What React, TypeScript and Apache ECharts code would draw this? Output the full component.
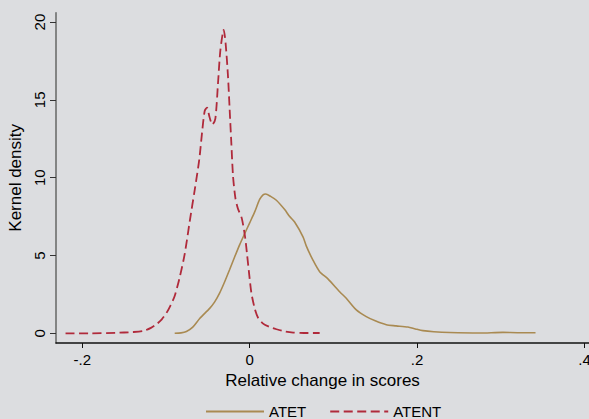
import React, { useEffect, useRef } from "react";
import * as echarts from "echarts";

const seriesNames = ["ATET", "ATENT"];

const atetX = [-0.0896, -0.082, -0.0756, -0.068, -0.0597, -0.0478, -0.042, -0.0358, -0.03, -0.0239, -0.018, -0.0119, -0.006, 0, 0.006, 0.0119, 0.016, 0.0191, 0.025, 0.0319, 0.0418, 0.0478, 0.0537, 0.0637, 0.0677, 0.0756, 0.0836, 0.0935, 0.1075, 0.1154, 0.1274, 0.1393, 0.15, 0.1632, 0.175, 0.189, 0.198, 0.207, 0.22, 0.2388, 0.2746, 0.3025, 0.32, 0.3415];
const atetY = [0, 0.03, 0.12, 0.4, 0.95, 1.6, 2.0, 2.6, 3.3, 4.1, 4.9, 5.7, 6.4, 7.1, 7.8, 8.6, 8.9, 8.95, 8.8, 8.55, 7.95, 7.5, 7.15, 6.2, 5.6, 4.7, 3.96, 3.5, 2.67, 2.25, 1.5, 1.07, 0.8, 0.55, 0.48, 0.4, 0.28, 0.17, 0.1, 0.05, 0.02, 0.06, 0.04, 0.04];

const atentX = [-0.22, -0.19, -0.16, -0.14, -0.127, -0.118, -0.111, -0.105, -0.0995, -0.0945, -0.0896, -0.0836, -0.0776, -0.0716, -0.0657, -0.0617, -0.0597, -0.0569, -0.0537, -0.051, -0.048, -0.0446, -0.041, -0.0378, -0.035, -0.031, -0.0287, -0.0259, -0.0239, -0.0219, -0.0199, -0.0171, -0.014, -0.0095, -0.0055, -0.003, -0.001, 0.002, 0.006, 0.01, 0.016, 0.024, 0.032, 0.042, 0.052, 0.065, 0.0836];
const atentY = [0, 0, 0.03, 0.08, 0.15, 0.35, 0.6, 0.9, 1.3, 1.8, 2.4, 3.6, 5.1, 7.2, 9.2, 10.6, 11.4, 12.9, 14.3, 14.5, 13.9, 13.4, 13.8, 16.1, 18.2, 19.5, 18.6, 16.5, 14.35, 12.2, 10.1, 8.7, 8.0, 7.4, 6.2, 5.0, 4.0, 2.6, 1.6, 1.0, 0.62, 0.4, 0.26, 0.12, 0.05, 0.02, 0.02];

const xTicks = [-0.2, 0, 0.2, 0.4];
const yTicks = [0, 5, 10, 15, 20];

const xTitle = "Relative change in scores";
const yTitle = "Kernel density";

const FONT = "'Liberation Sans', Arial, sans-serif";

function fmtX(v: number): string {
  if (Math.abs(v) < 1e-9) return "0";
  const s = String(Math.round(v * 10) / 10);
  return s.replace("0.", ".");
}

export default function App() {
  const ref = useRef<HTMLDivElement>(null);
  useEffect(() => {
    if (!ref.current) return;
    const chart = echarts.init(ref.current, null, { renderer: "svg" });
    const zip = (xs: number[], ys: number[]) => xs.map((x, i) => [x, ys[i]]);
    chart.setOption({
      animation: false,
      backgroundColor: "#dcdde0",
      textStyle: { fontFamily: FONT },
      grid: { left: 56, top: 12.7, width: 533, height: 330.3, containLabel: false, outerBoundsMode: "none" },
      xAxis: {
        type: "value",
        min: -0.2314,
        max: 0.4054,
        name: xTitle,
        nameLocation: "middle",
        nameGap: 21,
        nameTextStyle: { fontSize: 17, color: "#000", fontFamily: FONT },
        splitLine: { show: false },
        axisLine: { show: true, onZero: false, lineStyle: { color: "#111", width: 1.5 } },
        axisTick: { show: true, length: 5, lineStyle: { color: "#111", width: 1 }, customValues: xTicks },
        axisLabel: { show: true, fontSize: 15, color: "#000", margin: 9, customValues: xTicks, formatter: (v: number) => fmtX(v) },
      },
      yAxis: {
        type: "value",
        min: -0.623,
        max: 20.6,
        name: yTitle,
        nameLocation: "middle",
        nameGap: 25,
        nameRotate: 90,
        nameTextStyle: { fontSize: 17, color: "#000", fontFamily: FONT },
        splitLine: { show: false },
        axisLine: { show: true, onZero: false, lineStyle: { color: "#666", width: 1.5 } },
        axisTick: { show: true, length: 6, lineStyle: { color: "#333", width: 1 }, customValues: yTicks },
        axisLabel: { show: true, fontSize: 15, color: "#000", rotate: 90, margin: 9, customValues: yTicks },
      },
      legend: {
        left: 200,
        top: 399,
        itemWidth: 58,
        itemHeight: 14,
        itemGap: 23,
        itemStyle: { opacity: 0 },
        textStyle: { fontSize: 15, color: "#000", fontFamily: FONT },
        data: seriesNames,
      },
      series: [
        {
          name: seriesNames[0],
          type: "line",
          data: zip(atetX, atetY),
          showSymbol: false,
          symbol: "none",
          smooth: 0.25,
          color: "#a98a52",
          lineStyle: { color: "#a98a52", width: 1.6 },
        },
        {
          name: seriesNames[1],
          type: "line",
          data: zip(atentX, atentY),
          showSymbol: false,
          symbol: "none",
          smooth: 0.25,
          color: "#b02a3b",
          lineStyle: { color: "#b02a3b", width: 1.8, type: [9, 4.5] },
        },
      ],
    });
    return () => chart.dispose();
  }, []);
  return (
    <div
      ref={ref}
      style={{ position: "fixed", left: 0, top: 0, width: 589, height: 419 }}
    />
  );
}
